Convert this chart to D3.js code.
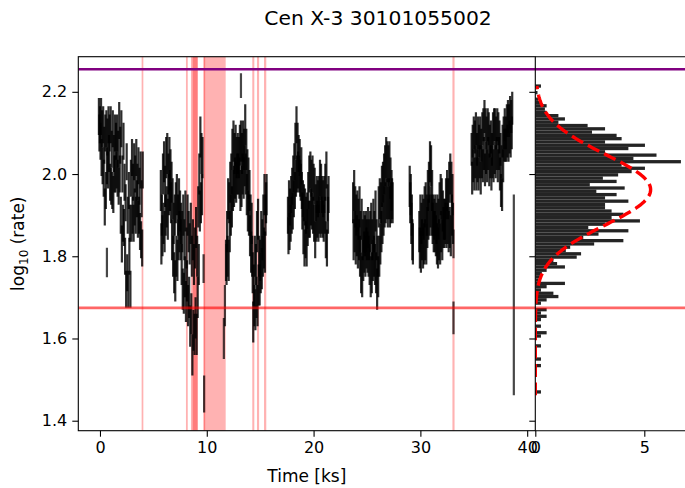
<!DOCTYPE html>
<html><head><meta charset="utf-8">
<script src="https://cdn.jsdelivr.net/npm/d3@7"></script>
<style>body{margin:0;background:#fff;} text{font-family:"DejaVu Sans",sans-serif;fill:#000;}</style>
</head><body><svg id="c" width="685" height="488"></svg>
<script>
// ---------------- DATA ----------------
const title = "Cen X-3 30101055002";
const xTicks = [0, 10, 20, 30, 40];
const yTicks = [1.4, 1.6, 1.8, 2.0, 2.2];
const histTicks = [0, 5];

// light-curve segments: start time (ks), bin step (ks), error (log10), values
const segStart = [-0.1, 5.7, 11.8, 17.6, 23.7, 29.0, 29.9, 34.8];
const segStep = 0.05;
const segErr = [0.045, 0.05, 0.05, 0.045, 0.05, 0.05, 0.05, 0.04];
const seg1 = [2.14,2.10,2.12,2.08,2.14,2.04,2.11,2.02,2.12,1.99,2.07,1.92,2.10,1.96,2.11,2.02,2.09,2.01,2.12,2.05,
  2.10,1.98,2.12,1.97,2.06,1.96,2.11,1.95,2.05,2.00,2.10,2.00,2.08,2.01,2.10,1.99,2.06,1.97,2.13,2.00,
  2.07,1.90,2.11,1.83,2.00,1.88,2.08,1.87,1.98,1.80,1.93,1.72,2.03,1.76,1.90,1.72,1.96,1.80,1.88,1.72,
  1.99,1.88,2.04,1.90,1.98,1.88,2.03,1.92,2.00,1.90,2.04,1.94,1.98,1.89,2.02,1.90,1.97,1.86,2.01,1.84,
  1.94,1.82,2.01];
const seg2 = [1.96,1.83,1.90,1.85,2.00,1.88,2.03,1.86,1.97,1.90,2.04,1.92,2.05,1.89,2.00,1.95,2.04,1.96,2.01,1.93,
  1.98,1.84,1.94,1.80,1.88,1.76,1.90,1.74,1.93,1.80,1.95,1.79,1.90,1.84,1.94,1.86,1.91,1.84,1.88,1.78,
  1.86,1.72,1.90,1.71,1.84,1.75,1.91,1.69,1.82,1.74,1.90,1.68,1.86,1.70,1.83,1.63,1.88,1.66,1.80,1.56,
  1.84,1.62,1.78,1.61,1.82,1.65,1.87,1.61,1.80,1.70,1.92,1.78,2.00,1.91,2.09,1.93,2.05,1.95,2.04];
const seg3 = [1.79,1.78,1.86,1.80,1.94,1.79,1.93,1.86,1.98,1.90,2.00,1.92,2.06,1.96,2.08,1.97,2.05,1.99,2.07,1.98,
  2.04,2.00,2.05,2.00,2.04,1.99,2.07,1.96,2.08,1.97,2.05,2.00,2.08,1.99,2.06,2.02,2.12,2.00,2.06,1.95,
  2.01,1.91,1.99,1.90,1.96,1.85,1.90,1.81,1.88,1.80,1.76,1.64,1.73,1.68,1.80,1.67,1.78,1.70,1.86,1.68,
  1.89,1.73,1.80,1.73,1.79,1.76,1.86,1.77,1.84,1.80,1.90,1.82,1.95,1.81,1.90,1.93,1.95];
const seg4 = [1.90,1.85,1.94,1.86,1.92,1.88,1.95,1.90,1.97,1.91,2.00,1.94,2.03,1.96,2.08,1.99,2.12,2.00,2.08,2.01,
  2.05,2.00,2.04,1.99,1.98,2.02,1.96,1.91,1.94,1.85,1.93,1.82,1.92,1.84,1.90,1.82,1.91,1.87,1.96,1.89,
  2.00,1.89,2.01,1.92,1.99,1.91,2.00,1.90,1.98,1.88,1.97,1.84,1.93,1.88,1.95,1.89,1.94,1.88,1.95,1.90,
  1.99,1.89,1.98,1.90,1.95,1.89,1.94,1.88,1.95,1.90,1.98,1.84,2.01,1.82,1.93,1.90,1.95];
const seg5 = [1.93,1.84,1.96,1.86,1.92,1.83,1.90,1.85,1.91,1.82,1.89,1.84,1.92,1.80,1.86,1.76,1.89,1.75,1.84,1.79,
  1.86,1.81,1.85,1.80,1.86,1.82,1.84,1.81,1.87,1.80,1.84,1.78,1.86,1.75,1.88,1.76,1.84,1.79,1.89,1.80,
  1.86,1.78,1.91,1.76,1.84,1.72,1.80,1.75,1.92,1.80,1.94,1.83,1.93,1.86,1.97,1.88,1.98,1.90,2.00,1.92,
  2.02,1.93,2.04,1.94,2.03,1.92,2.02,1.94,2.03,1.92,1.99,1.93,1.96,1.94,1.93];
const seg6 = [1.97,1.93,1.95,1.88,1.90,1.84,1.83];
const seg7 = [1.86,1.82,1.90,1.81,1.88,1.84,1.90,1.82,1.89,1.83,1.92,1.84,1.93,1.83,1.90,1.87,1.96,1.89,1.98,1.90,
  2.03,1.92,2.02,1.90,1.96,1.88,1.90,1.86,1.89,1.86,1.90,1.85,1.88,1.83,1.90,1.82,1.89,1.84,1.93,1.83,
  1.95,1.86,1.94,1.84,1.91,1.87,1.89,1.87,1.89,1.88,1.94,1.87,1.96,1.88,1.94,1.86,1.98,1.87,2.00,1.85,
  1.98,1.90,1.95,1.88];
const seg8 = [2.06,1.99,2.08,2.02,2.10,2.00,2.09,2.03,2.11,2.00,2.06,2.02,2.10,2.00,2.08,2.03,2.10,1.99,2.07,2.03,
  2.11,2.02,2.12,2.05,2.14,2.01,2.12,2.04,2.10,2.02,2.12,2.05,2.11,2.01,2.08,2.03,2.09,2.00,2.06,2.03,
  2.11,2.02,2.12,2.04,2.12,2.03,2.10,2.05,2.12,2.02,2.11,2.05,2.09,2.00,2.06,1.96,2.03,1.95,2.08,2.02,
  2.10,2.07,2.12,2.07,2.10,2.07,2.13,2.08,2.14,2.07,2.13,2.09,2.15,2.08,2.14,2.10,2.16];
const segValues = [seg1, seg2, seg3, seg4, seg5, seg6, seg7, seg8];

// isolated bins
const outT = [0.65, 9.7, 9.75, 11.6, 11.7, 13.2, 33.1, 33.1, 38.75];
const outV = [1.785, 1.77, 1.465, 1.60, 1.68, 2.215, 1.83, 1.65, 1.706];
const outE = [0.036, 0.035, 0.045, 0.05, 0.05, 0.03, 0.035, 0.04, 0.244];

// flagged intervals (ks)
const spanStart = [3.90, 8.05, 8.52, 8.68, 9.70, 9.70, 14.26, 14.70, 15.36, 33.0];
const spanEnd   = [4.06, 8.22, 9.15, 9.15, 9.85, 11.77, 14.45, 14.90, 15.57, 33.2];

// horizontal thresholds
const upperLevel = 2.255;
const lowerLevel = 1.6745;

// histogram of log10 rate (top bin edge, bin width, densities top -> bottom)
const histTop = 2.218;
const histBinW = 0.008;
const histCounts = [0.26,0,0.1,0,0.14,0.3,0.52,0.44,0.5,1.06,
 1.36,1.06,2.4,3.2,2.6,3.73,3.96,3.2,5.03,4.27,
 3.2,5.56,4.5,6.68,3.96,5.03,4.42,3.8,3.1,3.73,
 2.5,4.1,2.8,3.73,3.2,4.27,3.2,3.2,3.5,4.04,
 3.5,4.8,3.2,2.43,4.27,2.9,2.2,4.04,2.7,1.6,
 1.4,2.1,1.9,0.83,1.0,1.36,0.52,0.3,0.26,0.15,
 1.36,0.52,0.26,0.83,1.06,0.52,0.26,0,0.52,0.26,
 0.52,0.26,0,0.26,0,0.52,0.26,0,0,0.26,
 0,0,0,0.26,0,0.26,0,0,0,0,
 0,0,0,0.26];

// gaussian fit parameters
const gaussMu = 1.962, gaussSigma = 0.086, gaussAmp = 5.29;
const gaussRange = [1.462, 2.214];

// ---------------- LAYOUT ----------------
const svg = d3.select("#c");
const L = 78.3, R = 535.3, T = 56.7, B = 430.7, HR = 700;
const x = d3.scaleLinear().domain([-2.03, 40.76]).range([L, R]);
const y = d3.scaleLinear().domain([1.3757, 2.2854]).range([B, T]);
const xh = d3.scaleLinear().domain([0, 5]).range([R, 644.3]);

const defs = svg.append("defs");
defs.append("clipPath").attr("id","cm").append("rect").attr("x",L).attr("y",T).attr("width",R-L).attr("height",B-T);
defs.append("clipPath").attr("id","ch").append("rect").attr("x",R).attr("y",T).attr("width",HR-R).attr("height",B-T);

const gm = svg.append("g").attr("clip-path","url(#cm)");
const gh = svg.append("g").attr("clip-path","url(#ch)");

// spans
gm.selectAll("rect.span").data(spanStart).join("rect")
  .attr("x", (d)=>x(d)).attr("width",(d,i)=>x(spanEnd[i])-x(d))
  .attr("y",T).attr("height",B-T).attr("fill","red").attr("fill-opacity",0.3);

// points
const pts = [];
segValues.forEach((arr,s)=>arr.forEach((v,i)=>pts.push({t:segStart[s]+i*segStep, v, e:segErr[s], o:0.82})));
outT.forEach((t,i)=>pts.push({t, v:outV[i], e:outE[i], o:0.72}));
gm.selectAll("line.eb").data(pts).join("line")
  .attr("x1",d=>x(d.t)).attr("x2",d=>x(d.t))
  .attr("y1",d=>y(d.v-d.e)).attr("y2",d=>y(d.v+d.e))
  .attr("stroke","#000").attr("stroke-opacity",d=>d.o).attr("stroke-width",2.2);

// histogram
gh.selectAll("rect.hb").data(histCounts).join("rect")
  .attr("x",R).attr("y",(d,i)=>y(histTop - i*histBinW))
  .attr("height",(d,i)=>y(histTop-(i+1)*histBinW)-y(histTop-i*histBinW))
  .attr("width",d=>xh(d)-xh(0))
  .attr("fill","#111").attr("fill-opacity",0.92);

// gaussian
const gv = d3.range(gaussRange[0], gaussRange[1]+1e-9, (gaussRange[1]-gaussRange[0])/200);
gh.append("path").datum(gv)
  .attr("d", d3.line().x(v=>xh(gaussAmp*Math.exp(-0.5*((v-gaussMu)/gaussSigma)**2))).y(v=>y(v)))
  .attr("fill","none").attr("stroke","red").attr("stroke-width",3.4).attr("stroke-dasharray","12.8,5.5");

// horizontal lines across both axes
[gm, gh].forEach(g=>{
  g.append("line").attr("x1",L).attr("x2",HR).attr("y1",y(upperLevel)).attr("y2",y(upperLevel))
   .attr("stroke","purple").attr("stroke-width",2.6);
  g.append("line").attr("x1",L).attr("x2",HR).attr("y1",y(lowerLevel)).attr("y2",y(lowerLevel))
   .attr("stroke","red").attr("stroke-opacity",0.6).attr("stroke-width",2.6);
});

// spines
const sp = svg.append("g").attr("stroke","#000").attr("stroke-width",1.1).attr("fill","none");
sp.append("rect").attr("x",L).attr("y",T).attr("width",R-L).attr("height",B-T);
sp.append("line").attr("x1",R).attr("x2",HR).attr("y1",T).attr("y2",T);
sp.append("line").attr("x1",R).attr("x2",HR).attr("y1",B).attr("y2",B);

// axes
const fs = "16px";
function styleAxis(g){ g.select(".domain").remove(); g.selectAll("line").attr("stroke","#000").attr("stroke-width",1.1); g.selectAll("text").attr("font-size",fs).attr("font-family","DejaVu Sans"); }
svg.append("g").attr("transform",`translate(0,${B})`).call(d3.axisBottom(x).tickValues(xTicks).tickFormat(d3.format("d")).tickSize(6).tickPadding(5)).call(styleAxis);
svg.append("g").attr("transform",`translate(${L},0)`).call(d3.axisLeft(y).tickValues(yTicks).tickFormat(d3.format(".1f")).tickSize(6).tickPadding(5)).call(styleAxis);
svg.append("g").attr("transform",`translate(0,${B})`).call(d3.axisBottom(xh).tickValues(histTicks).tickFormat(d3.format("d")).tickSize(6).tickPadding(5)).call(styleAxis);
svg.append("g").attr("transform",`translate(${R},0)`).call(d3.axisLeft(y).tickValues(yTicks).tickFormat("").tickSize(6)).call(styleAxis);

// labels
svg.append("text").attr("x",378).attr("y",25).attr("text-anchor","middle").attr("font-size","20.3px").text(title);
svg.append("text").attr("x",(L+R)/2).attr("y",482).attr("text-anchor","middle").attr("font-size","17px").text("Time [ks]");
const yl = svg.append("text").attr("transform",`translate(24,${(T+B)/2}) rotate(-90)`).attr("text-anchor","middle").attr("font-size","17px");
yl.append("tspan").text("log");
yl.append("tspan").attr("font-size","12px").attr("dy",4).text("10");
yl.append("tspan").attr("dy",-4).text(" (rate)");
</script></body></html>
